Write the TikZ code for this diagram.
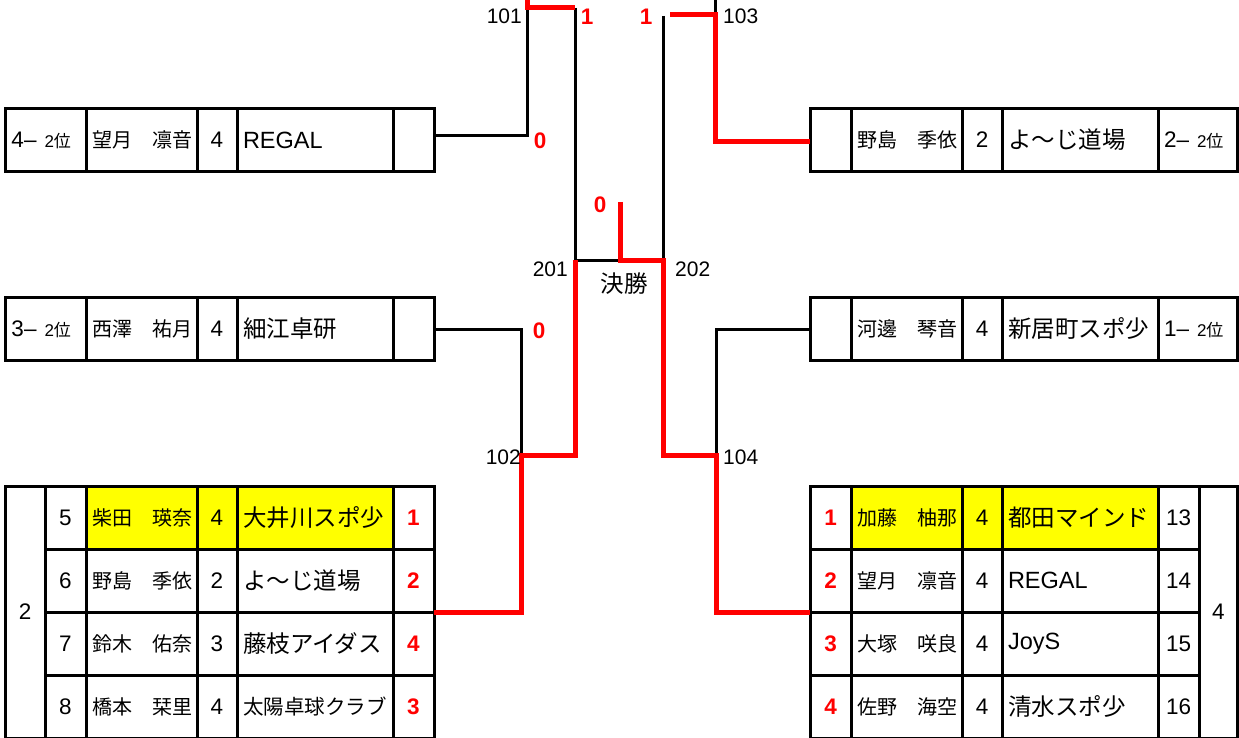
\documentclass[tikz,border=0pt]{standalone}
\usepackage{fontspec}
\setmainfont{Liberation Sans}
\newfontfamily\jp{Noto Sans CJK JP}
\newcommand\teamf{\fontsize{23.5}{26}\selectfont}
\newcommand\namef{\fontsize{20}{24}\selectfont}
\newcommand\numf{\fontsize{22.5}{26}\selectfont}
\newcommand\labf{\fontsize{21}{24}\selectfont}
\newcommand\smallf{\fontsize{17}{20}\selectfont}
\definecolor{winred}{RGB}{255,0,0}
\definecolor{seedyellow}{RGB}{255,255,0}

\begin{document}
\begin{tikzpicture}[x=1pt,y=-1pt,line join=miter,
    cell/.style={draw,line width=3pt,minimum height=63pt,inner xsep=0pt,inner ysep=0pt,outer sep=0pt,anchor=west,align=center,font=\numf},
    lcell/.style={cell,align=left,inner xsep=6pt},
    namecell/.style={lcell,text width=99pt,font=\namef\jp},
    teamcell/.style={lcell,text width=144pt,font=\teamf\jp},
    seed/.style={fill=seedyellow},
    wire/.style={line width=3pt,black},
    win/.style={line width=5pt,winred},
    score/.style={text=winred,font=\numf\bfseries},
    mnum/.style={font=\labf,inner sep=0pt}]
    \useasboundingbox (0,0) rectangle (1239,738);

    \node[lcell,text width=68.5pt] (tl1) at (5.5,140) {4–\hspace{8pt}{\smallf 2\jp 位}};
    \node[namecell] (tl2) at (86,140) {望月　凛音};
    \node[cell,text width=40pt] (tl3) at (197,140) {4};
    \node[teamcell] (tl4) at (237,140) {\rmfamily REGAL};
    \node[cell,text width=41pt] (tl5) at (393,140) {};

    \node[lcell,text width=68.5pt] (ml1) at (5.5,329) {3–\hspace{8pt}{\smallf 2\jp 位}};
    \node[namecell] (ml2) at (86,329) {西澤　祐月};
    \node[cell,text width=40pt] (ml3) at (197,329) {4};
    \node[teamcell] (ml4) at (237,329) {細江卓研};
    \node[cell,text width=41pt] (ml5) at (393,329) {};

    \node[cell,text width=41pt] (tr1) at (810,140) {};
    \node[namecell] (tr2) at (851,140) {野島　季依};
    \node[cell,text width=40pt] (tr3) at (962,140) {2};
    \node[teamcell] (tr4) at (1002,140) {よ〜じ道場};
    \node[lcell,text width=67.5pt] (tr5) at (1158,140) {2–\hspace{8pt}{\smallf 2\jp 位}};

    \node[cell,text width=41pt] (mr1) at (810,329) {};
    \node[namecell] (mr2) at (851,329) {河邊　琴音};
    \node[cell,text width=40pt] (mr3) at (962,329) {4};
    \node[teamcell] (mr4) at (1002,329) {新居町スポ少};
    \node[lcell,text width=67.5pt] (mr5) at (1158,329) {1–\hspace{8pt}{\smallf 2\jp 位}};

    \node[cell,text width=39.5pt,minimum height=252pt] (bl0) at (5.5,612) {2};
    \node[cell,text width=41pt] (bl5n) at (45,517.5) {5};
    \node[namecell,seed] (bl5p) at (86,517.5) {柴田　瑛奈};
    \node[cell,seed,text width=40pt] (bl5g) at (197,517.5) {4};
    \node[teamcell,seed] (bl5t) at (237,517.5) {大井川スポ少};
    \node[cell,score,text width=41pt] (bl5r) at (393,517.5) {1};
    \node[cell,text width=41pt] (bl6n) at (45,580.5) {6};
    \node[namecell] (bl6p) at (86,580.5) {野島　季依};
    \node[cell,text width=40pt] (bl6g) at (197,580.5) {2};
    \node[teamcell] (bl6t) at (237,580.5) {よ〜じ道場};
    \node[cell,score,text width=41pt] (bl6r) at (393,580.5) {2};
    \node[cell,text width=41pt] (bl7n) at (45,643.5) {7};
    \node[namecell] (bl7p) at (86,643.5) {鈴木　佑奈};
    \node[cell,text width=40pt] (bl7g) at (197,643.5) {3};
    \node[teamcell] (bl7t) at (237,643.5) {藤枝アイダス};
    \node[cell,score,text width=41pt] (bl7r) at (393,643.5) {4};
    \node[cell,text width=41pt] (bl8n) at (45,706.5) {8};
    \node[namecell] (bl8p) at (86,706.5) {橋本　栞里};
    \node[cell,text width=40pt] (bl8g) at (197,706.5) {4};
    \node[teamcell] (bl8t) at (237,706.5) {\fontsize{20.5}{24}\selectfont 太陽卓球クラブ};
    \node[cell,score,text width=41pt] (bl8r) at (393,706.5) {3};

    \node[cell,score,text width=41pt] (br1r) at (810,517.5) {1};
    \node[namecell,seed] (br1p) at (851,517.5) {加藤　柚那};
    \node[cell,seed,text width=40pt] (br1g) at (962,517.5) {4};
    \node[teamcell,seed] (br1t) at (1002,517.5) {都田マインド};
    \node[cell,text width=41pt] (br1n) at (1158,517.5) {13};
    \node[cell,score,text width=41pt] (br2r) at (810,580.5) {2};
    \node[namecell] (br2p) at (851,580.5) {望月　凛音};
    \node[cell,text width=40pt] (br2g) at (962,580.5) {4};
    \node[teamcell] (br2t) at (1002,580.5) {\rmfamily REGAL};
    \node[cell,text width=41pt] (br2n) at (1158,580.5) {14};
    \node[cell,score,text width=41pt] (br3r) at (810,643.5) {3};
    \node[namecell] (br3p) at (851,643.5) {大塚　咲良};
    \node[cell,text width=40pt] (br3g) at (962,643.5) {4};
    \node[teamcell] (br3t) at (1002,643.5) {\rmfamily JoyS};
    \node[cell,text width=41pt] (br3n) at (1158,643.5) {15};
    \node[cell,score,text width=41pt] (br4r) at (810,706.5) {4};
    \node[namecell] (br4p) at (851,706.5) {佐野　海空};
    \node[cell,text width=40pt] (br4g) at (962,706.5) {4};
    \node[teamcell] (br4t) at (1002,706.5) {清水スポ少};
    \node[cell,text width=41pt] (br4n) at (1158,706.5) {16};
    \node[cell,text width=38.5pt,minimum height=252pt] (br0) at (1199,612) {4};

    \coordinate (t101) at (527,0);
    \coordinate (k101) at (527,8);
    \coordinate (a101) at (527,136);
    \coordinate (j101) at (575,8);
    \coordinate (j201) at (575,260);
    \coordinate (s201) at (575,455);
    \coordinate (f201) at (620,260);
    \coordinate (fin) at (620,202);
    \coordinate (j103) at (663,16);
    \coordinate (j202) at (663,260);
    \coordinate (s202) at (663,455);
    \coordinate (e103) at (670,15);
    \coordinate (t103) at (715,0);
    \coordinate (k103) at (715,15);
    \coordinate (a103) at (715,142);
    \coordinate (a102) at (521,329);
    \coordinate (j102) at (521,455);
    \coordinate (b102) at (521,612);
    \coordinate (a104) at (716,329);
    \coordinate (j104) at (716,455);
    \coordinate (b104) at (716,612);

    \draw[wire] (tl5.east |- a101) -- (a101) -- (k101);
    \draw[wire] (j101) -- (j201) -- (f201);
    \draw[wire] (j103) -- (j202);
    \draw[wire] (t103) -- (k103);
    \draw[wire] (ml5.east |- a102) -- (a102) -- (j102);
    \draw[wire] (mr1.west |- a104) -- (a104) -- (j104);

    \draw[win] (t101) -- (k101) -- (j101);
    \draw[win] (e103) -- (k103) -- (a103) -- (tr1.west |- a103);
    \draw[win] (bl6r.south east) -- (b102) -- (j102) -- (s201) -- (j201);
    \draw[win] (fin) -- (f201) -- (j202) -- (s202) -- (j104) -- (b104) -- (br2r.south west);

    \node[mnum,anchor=east] (n101) at (522,16) {101};
    \node[mnum,anchor=west] (n103) at (723,16) {103};
    \node[mnum,anchor=east] (n201) at (568,269) {201};
    \node[mnum,anchor=west] (n202) at (675,269) {202};
    \node[mnum,anchor=east] (n102) at (521,457) {102};
    \node[mnum,anchor=west] (n104) at (723,457) {104};
    \node[font=\teamf\jp,inner sep=0pt] (kessho) at (624,284) {決勝};

    \node[score,inner sep=0pt] (sc101) at (587,17) {1};
    \node[score,inner sep=0pt] (sc103) at (646,17) {1};
    \node[score,inner sep=0pt] (sc1l) at (540,141) {0};
    \node[score,inner sep=0pt] (sc2l) at (539,331) {0};
    \node[score,inner sep=0pt] (scfin) at (600,205) {0};
\end{tikzpicture}
\end{document}
